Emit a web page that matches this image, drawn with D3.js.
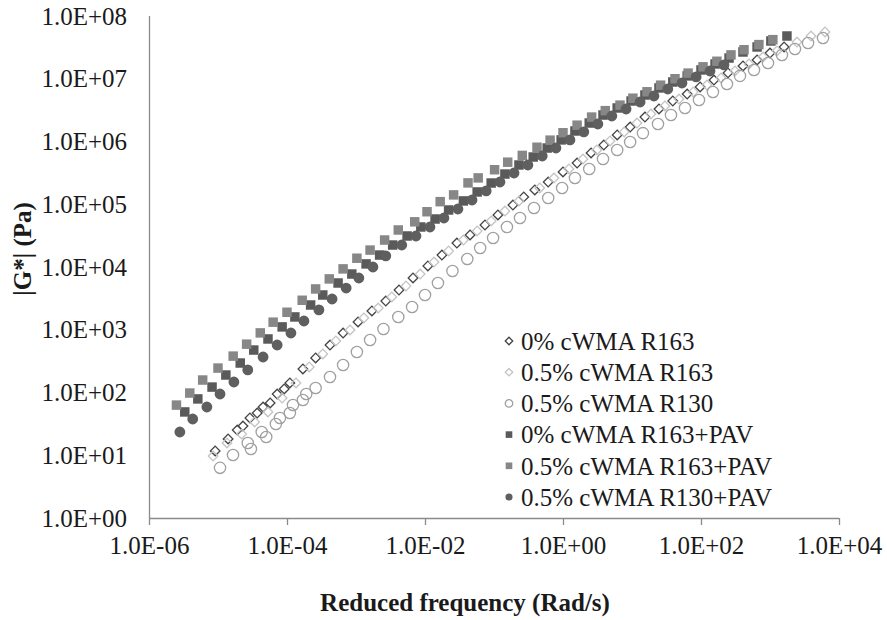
<!DOCTYPE html>
<html><head><meta charset="utf-8">
<script src="https://cdn.jsdelivr.net/npm/d3@7"></script>
<style>
html,body{margin:0;padding:0;background:#fff;}
svg{display:block;}
text{font-family:"Liberation Serif","Times New Roman",serif;}
</style></head>
<body>
<svg id="chart" width="887" height="620"></svg>
<script>
const seriesNames = ["0% cWMA R163","0.5% cWMA R163","0.5% cWMA R130","0% cWMA R163+PAV","0.5% cWMA R163+PAV","0.5% cWMA R130+PAV"];
const xTickValues = [1e-6,1e-4,1e-2,1,1e2,1e4];
const xTickLabels = ["1.0E-06","1.0E-04","1.0E-02","1.0E+00","1.0E+02","1.0E+04"];
const yTickValues = [1,10,100,1e3,1e4,1e5,1e6,1e7,1e8];
const yTickLabels = ["1.0E+00","1.0E+01","1.0E+02","1.0E+03","1.0E+04","1.0E+05","1.0E+06","1.0E+07","1.0E+08"];

// 0% cWMA R163
const f0R163 = [9.1e-6,1.4e-5,1.9e-5,2.3e-5,2.9e-5,3.7e-5,4.5e-5,5.7e-5,7.2e-5,9.1e-5,1.1e-4,1.7e-4,2.6e-4,4.2e-4,6.5e-4,1.07e-3,1.7e-3,2.7e-3,4.2e-3,6.7e-3,1.1e-2,1.76e-2,2.9e-2,4.5e-2,7.4e-2,0.114,0.188,0.27,0.39,0.61,1.0,1.6,2.55,3.9,6.1,9.4,15.4,24.6,39,63,97,154,246,406,650,1000,1600];
const g0R163 = [11.7,18.2,25.2,29.2,39.3,47.1,58.7,68.1,94.6,114,142,237,355,571,887,1330,1990,2870,4300,6680,1.04e4,1.55e4,2.41e4,3.24e4,4.67e4,6.75e4,9.72e4,1.31e5,1.69e5,2.26e5,3.27e5,4.54e5,6.56e5,8.79e5,1.27e6,1.70e6,2.45e6,3.30e6,4.42e6,5.71e6,7.4e6,9.55e6,1.24e7,1.6e7,1.99e7,2.57e7,3.21e7];
// 0.5% cWMA R163
const f05R163 = [8.5e-6,1.35e-5,2.2e-5,3.4e-5,5.3e-5,8.5e-5,1.35e-4,2.1e-4,3.3e-4,5.1e-4,8.2e-4,1.3e-3,2.1e-3,3.3e-3,5.3e-3,8.5e-3,1.35e-2,2.2e-2,3.6e-2,5.7e-2,9.1e-2,0.144,0.23,0.46,0.74,1.22,1.95,3.1,4.8,7.7,11.8,18.8,30,48,77,122,195,311,497,792,1260,2460,3930,6270];
const g05R163 = [9.7,15.7,21.8,33.9,48.9,81.7,142,255,411,662,991,1540,2220,3330,4980,7730,1.2e4,1.8e4,2.69e4,3.75e4,5.41e4,7.8e4,1.13e5,1.82e5,2.62e5,3.65e5,5.26e5,7.33e5,1.02e6,1.42e6,1.97e6,2.74e6,3.68e6,4.75e6,6.15e6,7.94e6,1.03e7,1.33e7,1.72e7,2.22e7,2.77e7,3.85e7,4.8e7,5.56e7];
// 0.5% cWMA R130
const f05R130 = [1.07e-5,1.65e-5,2.7e-5,3.0e-5,4.3e-5,5.0e-5,6.9e-5,7.9e-5,1.1e-4,1.22e-4,1.7e-4,1.9e-4,2.6e-4,4.2e-4,6.5e-4,1.03e-3,1.6e-3,2.5e-3,4.1e-3,6.5e-3,1.0e-2,1.54e-2,2.5e-2,4.1e-2,6.3e-2,9.7e-2,0.154,0.238,0.38,0.61,0.97,1.49,2.4,3.8,6.1,9.4,14.4,23.8,36.7,58.6,93.5,149,238,367,586,935,1490,2300,3560,5860];
const g05R130 = [6.3,10.1,15.7,12.6,23.5,19.5,31.5,39.3,47.1,63.2,75.9,94.6,118,177,274,442,687,1030,1600,2310,3580,5560,8630,1.34e4,2.01e4,2.9e4,4.34e4,6.04e4,8.71e4,1.26e5,1.82e5,2.62e5,3.65e5,5.26e5,7.33e5,9.82e5,1.36e6,1.9e6,2.64e6,3.42e6,4.58e6,6.15e6,8.24e6,1.11e7,1.38e7,1.78e7,2.39e7,2.98e7,3.72e7,4.46e7];
// 0% cWMA R163+PAV
const f0R163P = [3.3e-6,5.1e-6,8.2e-6,1.3e-5,2.1e-5,3.3e-5,5.3e-5,8.5e-5,1.3e-4,2.2e-4,3.3e-4,5.5e-4,8.7e-4,1.4e-3,2.2e-3,3.4e-3,5.5e-3,8.7e-3,1.4e-2,2.2e-2,3.6e-2,5.7e-2,9.1e-2,0.144,0.23,0.37,0.59,0.94,1.49,2.4,3.8,6.1,9.7,15.4,24.6,39,63,100,160,255,406,650,1030,1760];
const g0R163P = [49,79,122,190,295,475,713,1110,1600,2480,3580,5560,7730,1.12e4,1.55e4,2.24e4,3.12e4,4.34e4,5.82e4,8.1e4,1.13e5,1.57e5,2.18e5,3.03e5,4.22e5,5.66e5,7.87e5,1.06e6,1.47e6,1.97e6,2.64e6,3.42e6,4.42e6,5.51e6,7.13e6,8.87e6,1.11e7,1.38e7,1.72e7,2.14e7,2.67e7,3.21e7,4.0e7,4.8e7];
// 0.5% cWMA R163+PAV
const f05R163P = [2.5e-6,3.9e-6,6.0e-6,1.0e-5,1.66e-5,2.6e-5,4.1e-5,6.3e-5,1.0e-4,1.66e-4,2.6e-4,4.1e-4,6.5e-4,1.03e-3,1.6e-3,2.6e-3,4.1e-3,7.1e-3,1.07e-2,1.66e-2,2.6e-2,4.2e-2,5.9e-2,0.102,0.158,0.257,0.42,0.65,1.0,1.6,2.6,4.1,6.7,10.3,16.5,26,42,65,107,170,272,420,690,1100];
const g05R163P = [63,98,158,245,380,589,891,1320,1900,2950,4470,6460,9330,1.38e4,1.86e4,2.69e4,3.89e4,5.25e4,7.6e4,1.1e5,1.41e5,2.19e5,2.63e5,3.55e5,4.68e5,6.0e5,8.1e5,1.05e6,1.38e6,1.82e6,2.45e6,3.1e6,3.8e6,4.9e6,6.2e6,7.9e6,1.0e7,1.23e7,1.55e7,1.9e7,2.4e7,2.9e7,3.5e7,4.2e7];
// 0.5% cWMA R130+PAV
const f05R130P = [2.8e-6,4.3e-6,6.9e-6,1.07e-5,1.7e-5,2.7e-5,4.5e-5,7.2e-5,1.14e-4,1.76e-4,2.9e-4,4.5e-4,7.2e-4,1.1e-3,1.76e-3,2.7e-3,4.6e-3,7.4e-3,1.18e-2,1.88e-2,3.0e-2,4.8e-2,7.7e-2,0.122,0.195,0.31,0.50,0.79,1.26,2.0,3.2,5.1,8.2,13.1,20.8,33,53,85,135,215];
const g05R130P = [23.5,37.8,58.7,94.6,147,229,368,571,887,1380,2070,3090,4620,6680,1.0e4,1.5e4,2.24e4,3.12e4,4.34e4,6.04e4,8.4e4,1.17e5,1.63e5,2.26e5,3.15e5,4.22e5,5.87e5,7.87e5,1.06e6,1.42e6,1.9e6,2.55e6,3.3e6,4.26e6,5.31e6,6.87e6,8.55e6,1.07e7,1.33e7,1.66e7];

const styles = [
  {shape:"diamond", size:46, fill:"none", stroke:"#444444", sw:1.3, lsize:28},
  {shape:"diamond", size:46, fill:"none", stroke:"#c4c4c4", sw:1.3, lsize:28},
  {shape:"circle", size:100, fill:"none", stroke:"#a0a0a0", sw:1.3, lsize:44},
  {shape:"square", size:90, fill:"#5a5a5a", stroke:"none", sw:0, lsize:44},
  {shape:"square", size:90, fill:"#878787", stroke:"none", sw:0, lsize:44},
  {shape:"circle", size:92, fill:"#5f5f5f", stroke:"none", sw:0, lsize:40}
];
const xs = [f0R163,f05R163,f05R130,f0R163P,f05R163P,f05R130P];
const gs = [g0R163,g05R163,g05R130,g0R163P,g05R163P,g05R130P];

const svg = d3.select("#chart");
const x = d3.scaleLog().domain([1e-6,1e4]).range([149,839]);
const y = d3.scaleLog().domain([1,1e8]).range([518,16]);
const axisColor = "#8a8a8a";
const fontSize = 25;

function symPath(shape,size){
  const t = shape==="circle"?d3.symbolCircle:d3.symbolSquare;
  return d3.symbol().type(t).size(size)();
}
function symTransform(shape,cx,cy){
  return `translate(${cx},${cy})` + (shape==="diamond"?" rotate(45)":"");
}

// axes
const xAxis = d3.axisBottom(x).tickValues(xTickValues).tickSize(7).tickFormat((d,i)=>xTickLabels[i]);
const gx = svg.append("g").attr("transform","translate(0,518)").call(xAxis);
gx.select(".domain").attr("stroke",axisColor).attr("stroke-width",1.3).attr("d","M149,0.5H839");
gx.selectAll(".tick line").attr("stroke",axisColor).attr("stroke-width",1.3);
gx.selectAll(".tick text").attr("font-size",fontSize).attr("fill","#1a1a1a").attr("dy","0.62em").attr("y",20)
  .style("font-family",'"Liberation Serif",serif');

const yAxis = d3.axisLeft(y).tickValues(yTickValues).tickSize(0).tickPadding(22).tickFormat((d,i)=>yTickLabels[i]);
const gy = svg.append("g").attr("transform","translate(149,0)").call(yAxis);
gy.select(".domain").attr("stroke",axisColor).attr("stroke-width",1.3).attr("d","M0.5,16V518");
gy.selectAll(".tick text").attr("font-size",fontSize).attr("fill","#1a1a1a")
  .style("font-family",'"Liberation Serif",serif');

// data
xs.forEach((fx,si)=>{
  const st = styles[si];
  const data = fx.map((f,i)=>[f,gs[si][i]]);
  svg.append("g").selectAll("path").data(data).join("path")
    .attr("d",symPath(st.shape,st.size))
    .attr("transform",d=>symTransform(st.shape,x(d[0]),y(d[1])))
    .attr("fill",st.fill).attr("stroke",st.stroke).attr("stroke-width",st.sw);
});

// legend
const leg = svg.append("g");
seriesNames.forEach((name,i)=>{
  const st = styles[i];
  const cy = 341 + i*31.2;
  leg.append("path").attr("d",symPath(st.shape,st.lsize))
    .attr("transform",symTransform(st.shape,509,cy))
    .attr("fill",st.fill).attr("stroke",st.stroke).attr("stroke-width",st.sw);
  leg.append("text").attr("x",521).attr("y",cy).attr("dy","0.35em")
    .attr("font-size",fontSize).attr("fill","#1a1a1a").text(name);
});

// titles
svg.append("text").attr("x",465).attr("y",611).attr("text-anchor","middle")
  .attr("font-size",fontSize).attr("font-weight","bold").attr("fill","#1a1a1a")
  .text("Reduced frequency (Rad/s)");
svg.append("text").attr("transform","translate(31,249) rotate(-90)").attr("text-anchor","middle")
  .attr("font-size",fontSize).attr("font-weight","bold").attr("fill","#1a1a1a")
  .text("|G*| (Pa)");
</script>
</body></html>
